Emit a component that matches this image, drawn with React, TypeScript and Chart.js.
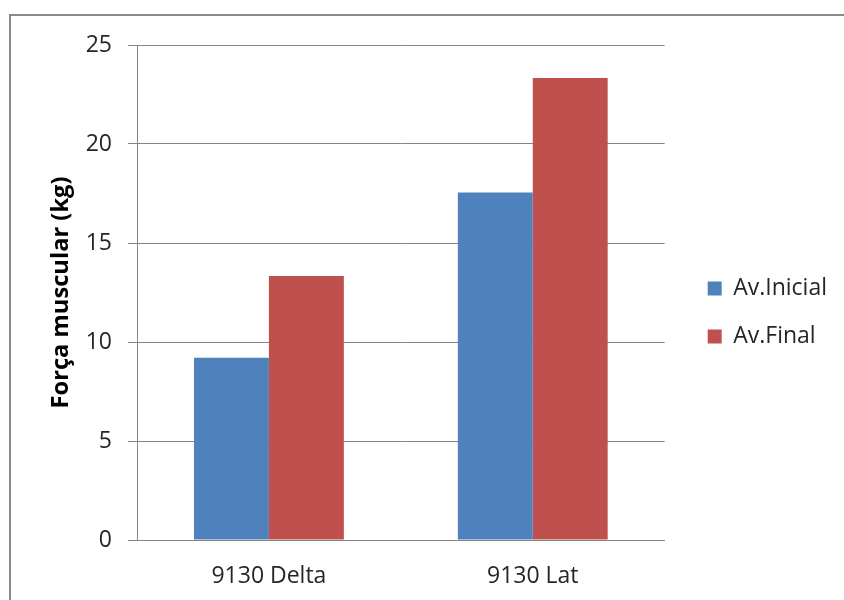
import React, { useEffect, useRef } from "react";
import { Chart, registerables } from "chart.js";

Chart.register(...registerables);

const categories = ["9130 Delta", "9130 Lat"];
const seriesNames = ["Av.Inicial", "Av.Final"];
const avInicial = [9.2, 17.55];
const avFinal = [13.33, 23.33];
const yTicksMax = 25;
const yStep = 5;
const yTitle = "Força muscular (kg)";

const FONT = "'Open Sans', 'Noto Sans', sans-serif";
const TEXT = "#262626";
const GRID = "#868686";

const frame = {
  id: "frame",
  afterDraw(chart: any) {
    const ctx = chart.ctx;
    ctx.save();
    ctx.strokeStyle = "#8a8a8a";
    ctx.lineWidth = 2;
    ctx.beginPath();
    ctx.moveTo(10, 620);
    ctx.lineTo(10, 15);
    ctx.lineTo(860, 15);
    ctx.stroke();
    ctx.restore();
  },
};

export default function App() {
  const ref = useRef<HTMLCanvasElement | null>(null);

  useEffect(() => {
    document.body.style.margin = "0";
    const canvas = ref.current;
    if (!canvas) return;
    const chart = new Chart(canvas, {
      type: "bar",
      data: {
        labels: categories,
        datasets: [
          {
            label: seriesNames[0],
            data: avInicial,
            backgroundColor: "#4F81BD",
            borderWidth: 0,
          },
          {
            label: seriesNames[1],
            data: avFinal,
            backgroundColor: "#C0504D",
            borderWidth: 0,
          },
        ],
      },
      options: {
        responsive: false,
        animation: false,
        devicePixelRatio: 1,
        layout: { padding: { top: 45, left: 0, right: 7, bottom: 0 } },
        datasets: {
          bar: { categoryPercentage: 0.568, barPercentage: 1 },
        },
        plugins: {
          tooltip: { enabled: false },
          legend: {
            position: "right",
            align: "center",
            fullSize: false,
            maxWidth: 220,
            title: {
              display: true,
              text: "",
              font: { size: 10 },
              padding: 14,
            },
            labels: {
              boxWidth: 14,
              boxHeight: 14,
              padding: 25,
              color: TEXT,
              font: { family: FONT, size: 23 },
            },
          },
        },
        scales: {
          x: {
            grid: { display: false, drawTicks: false },
            border: { display: true, color: GRID, width: 1 },
            ticks: {
              color: TEXT,
              font: { family: FONT, size: 23 },
              padding: 23,
              maxRotation: 0,
            },
            afterFit: (s: any) => {
              s.height = 60;
            },
          },
          y: {
            min: 0,
            max: yTicksMax,
            ticks: {
              stepSize: yStep,
              color: TEXT,
              font: { family: FONT, size: 23 },
              padding: 16,
            },
            grid: { color: GRID, lineWidth: 1, tickLength: 9, drawTicks: true },
            border: { display: true, color: GRID, width: 1 },
            title: {
              display: true,
              text: yTitle,
              color: "#000",
              font: { family: FONT, size: 23.7, weight: "bold" },
              padding: { top: 47, bottom: 0 },
            },
            afterFit: (s: any) => {
              s.width = 137;
            },
          },
          gap: {
            type: "linear",
            position: "right",
            display: true,
            grid: { display: false, drawTicks: false },
            border: { display: false },
            ticks: { display: false },
            afterFit: (s: any) => {
              s.width = 18;
            },
          },
        },
      },
      plugins: [frame],
    } as any);
    return () => chart.destroy();
  }, []);

  return (
    <canvas
      ref={ref}
      width={844}
      height={600}
      style={{ display: "block", width: 844, height: 600 }}
    />
  );
}
